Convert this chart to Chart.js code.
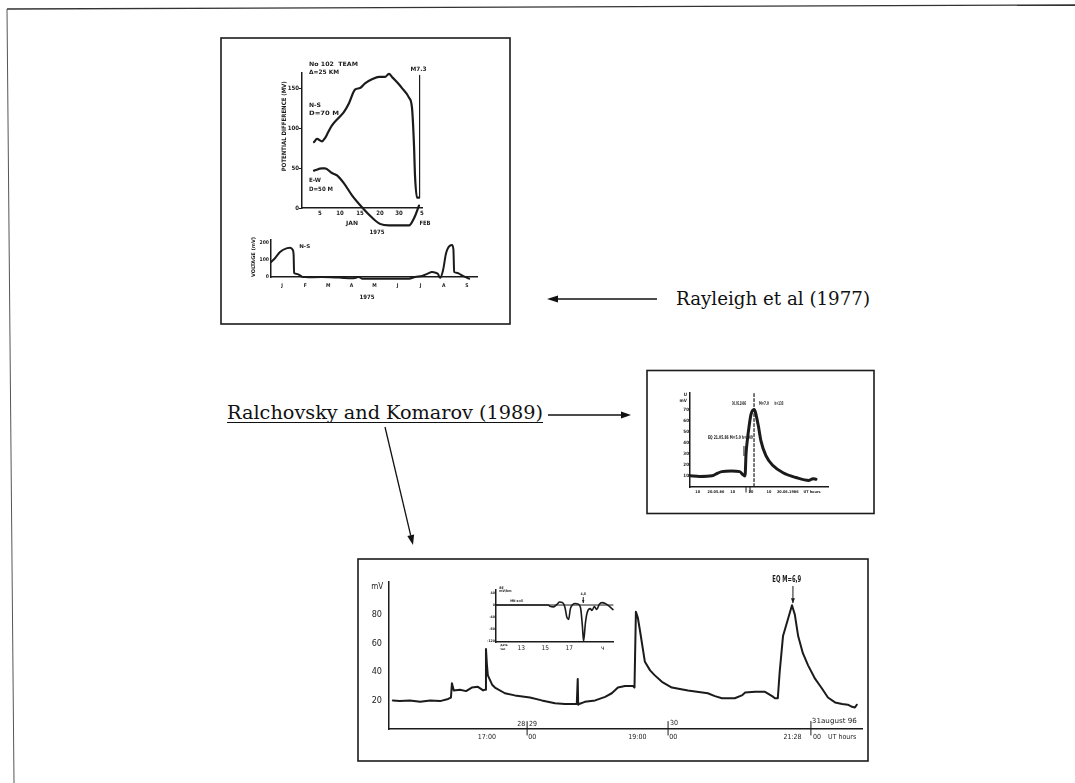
<!DOCTYPE html>
<html>
<head>
<meta charset="utf-8">
<title>Self-potential precursors</title>
<script src="https://cdn.jsdelivr.net/npm/chart.js@4.4.1/dist/chart.umd.min.js"></script>
<style>
  html, body { margin: 0; padding: 0; background: #fff; }
  #page { position: relative; width: 1075px; height: 783px; overflow: hidden; background: #fff; }
  #page canvas { position: absolute; }
  #page svg { position: absolute; left: 0; top: 0; }
</style>
</head>
<body>
<div id="page">
  <svg width="1075" height="783">
    <line x1="7" y1="9" x2="1075" y2="5" stroke="#333" stroke-width="1.3"/>
    <line x1="7" y1="9" x2="14" y2="783" stroke="#555" stroke-width="1"/>
    <rect x="221" y="38" width="289" height="286" fill="none" stroke="#1b1b1b" stroke-width="1.6"/>
    <rect x="647" y="370.5" width="227" height="143" fill="none" stroke="#1b1b1b" stroke-width="1.6"/>
    <rect x="358" y="559" width="510" height="202" fill="none" stroke="#1b1b1b" stroke-width="1.6"/>

    <text x="676" y="305" font-family="DejaVu Serif Condensed, DejaVu Serif, serif" font-size="18" fill="#111"
          textLength="194" lengthAdjust="spacingAndGlyphs">Rayleigh et al (1977)</text>
    <line x1="557" y1="299" x2="657" y2="299" stroke="#111" stroke-width="1.5"/>
    <polygon points="547,299 558,295.5 558,302.5" fill="#111"/>

    <text x="227" y="419" font-family="DejaVu Serif Condensed, DejaVu Serif, serif" font-size="18" fill="#111"
          textLength="316" lengthAdjust="spacingAndGlyphs">Ralchovsky and Komarov (1989)</text>
    <line x1="227" y1="422.5" x2="543" y2="422.5" stroke="#111" stroke-width="1"/>
    <line x1="548" y1="415" x2="622" y2="415" stroke="#111" stroke-width="1.5"/>
    <polygon points="631,415 621,411.5 621,418.5" fill="#111"/>
    <line x1="385" y1="427" x2="410.7" y2="535.3" stroke="#111" stroke-width="1.3"/>
    <polygon points="413,545 407.3,536.1 414.1,534.5" fill="#111"/>
  </svg>
  <canvas id="chartA"></canvas>
  <canvas id="chartB"></canvas>
  <canvas id="chartC"></canvas>
  <canvas id="chartD"></canvas>
  <canvas id="chartE"></canvas>
</div>
<script>
const ink = '#1b1b1b';
const cond = '"DejaVu Sans Condensed", "DejaVu Sans", sans-serif';

// --- Rayleigh et al: potential difference, January - February 1975 ---
const nsDay = [3.5, 4.25, 5.5, 6.25, 7, 8, 9.75, 11, 12.25, 13.75, 15, 16.25, 18, 19.75, 21.25, 22.25, 23, 24.5, 25.5, 27.25, 28, 28.5, 28.75, 29.25, 29.75];
const nsMv = [83, 87, 84, 88, 95, 104, 114, 121, 132, 149, 151, 157, 162, 165, 165, 169, 165, 157, 151, 139, 126, 79, 41, 13, 13];
const ewDay = [3.5, 5.5, 6.25, 8, 9.25, 11, 13, 15.5, 18, 20, 22.25, 27.25, 28.5, 29.75];
const ewMv = [47, 50, 50, 44, 41, 31, 16, 1, -12, -20, -22, -22, -13, 3];
const quakeDay = [29.9, 29.9];
const quakeMv = [13, 167];
const aYTicks = [0, 50, 100, 150];
const aYLabels = ['0', '50', '100', '150'];
const aXTicks = [5, 10, 15, 20, 24.75, 30.5];
const aXLabels = ['5', '10', '15', '20', '30', '5'];

// --- Rayleigh et al: N-S line over 1975 ---
const yearMonth = [-0.48, -0.3, -0.09, 0.22, 0.35, 0.46, 0.5, 0.52, 0.65, 0.87, 1.2, 1.73, 2.1, 2.47, 3.03, 3.2, 3.33, 3.46, 4.0, 4.63, 5.1, 5.5, 5.76, 6.06, 6.3, 6.49, 6.65, 6.75, 6.84, 6.97, 7.1, 7.27, 7.36, 7.42, 7.45, 7.55, 7.66, 7.79, 8.1];
const yearMv = [88, 112, 147, 170, 172, 160, 129, 23, 18, 2, -2, 0, -1, -3, -8, -4, 0, -10, -11, -10, -11, -10, 0, 6, 20, 29, 25, 18, -5, 40, 140, 185, 188, 160, 30, 25, 20, 10, -10];
const bYTicks = [0, 100, 200];
const bYLabels = ['0', '100', '200'];
const bXTicks = [0, 1, 2, 3, 4, 5, 6, 7, 8];
const bXLabels = ['J', 'F', 'M', 'A', 'M', 'J', 'J', 'A', 'S'];

// --- Ralchovsky and Komarov: May - June 1986 record ---
const mayT = [0, 7, 16, 20, 23, 30, 36, 38.5, 39.9, 40.6, 41.5, 42.8, 44.2, 46.4, 49.3, 51.4, 55, 60.1, 67.4, 76.8, 86.2, 89.1, 91.3];
const mayMv = [10.2, 9.6, 10.2, 12.5, 14, 14.6, 14, 11, 10, 30, 42, 55, 66, 70.5, 57, 42, 28.6, 19.5, 13, 8.6, 6, 7.6, 7];
const mayQuakeT = [46.4, 46.4];
const mayQuakeMv = [85, 0];
const cYTicks = [10, 20, 30, 40, 50, 60, 70];
const cYLabels = ['10', '20', '30', '40', '50', '60', '70'];
const cXTicks = [5.6, 18.8, 30.9, 44.2, 57.2, 70.8, 88.4];
const cXLabels = ['10', '20.05.86', '10', '20', '10', '20.06.1986', 'UT hours'];

// --- Ralchovsky and Komarov: 28 - 31 August 1986 record ---
const augT = [0.8, 2.3, 4.4, 6.6, 8.7, 10.8, 12.5, 13.1, 13.3, 13.7, 15.0, 16.3, 17.5, 18.8, 19.9, 20.3, 20.5, 20.7, 20.9, 21.8, 22.4, 24.5, 26.6, 29.8, 32.3, 35.1, 37.2, 39.7, 39.9, 40.0, 40.2, 41.4, 43.6, 45.7, 47.1, 48.4, 49.9, 51.6, 51.9, 52.2, 52.6, 53.1, 54.1, 55.2, 56.2, 57.7, 59.8, 63.2, 67.4, 68.9, 70.4, 73.1, 74.6, 75.3, 77.4, 79.5, 81.0, 81.6, 82.2, 82.6, 83.3, 84.4, 85.2, 85.8, 86.5, 87.5, 88.6, 90.1, 91.5, 92.8, 94.3, 95.8, 97.0, 97.9, 98.5, 98.9];
const augMv = [20, 19.5, 20, 19, 20, 19.5, 21, 22, 32, 27, 27.5, 26.5, 29, 29.5, 27, 27.5, 56, 45, 37.5, 31, 29, 25, 23.5, 22, 20, 18, 17.5, 17.5, 35, 17, 17.5, 19, 20, 22.5, 25, 29, 30, 30, 29, 82, 78, 68, 47, 41, 37.5, 33, 29, 27, 25, 23, 21.5, 21.5, 23.5, 25.5, 26, 26, 23, 21.5, 21.5, 40, 65, 77.5, 86.5, 80, 65, 53, 44.5, 35, 28.5, 22, 18.6, 17.5, 17, 15.5, 15, 17];
const dYTicks = [20, 40, 60, 80];
const dYLabels = ['20', '40', '60', '80'];
const dXTicks = [20.7, 30.3, 52.5, 60.1, 85.3, 90.5, 95.8];
const dXLabels = ['17:00', '00', '19:00', '00', '21:28', '00', 'UT hours'];
const dayBreakT = [29.2, 59.0, 89.2];

// --- inset: telluric field, MN line ---
const insetH = [10.9, 15.25, 15.4, 15.7, 16.0, 16.2, 16.45, 16.65, 16.8, 16.95, 17.1, 17.3, 17.5, 17.75, 17.95, 18.1, 18.2, 18.35, 18.5, 18.75, 18.9, 19.1, 19.3, 19.5, 19.75, 20.0, 20.3, 20.65];
const insetMv = [0, 0, -4, -6, 3, 10, 8, -8, -40, -48, -12, 2, 5, 3, -10, -70, -120, -60, -25, -12, -18, -5, -15, 2, 8, 5, -3, -15];
const zeroH = [10.9, 20.65];
const zeroMv = [0, 0];
const eYTicks = [-120, -80, -40, 0, 40];
const eYLabels = ['-120', '-80', '-40', '0', '40'];
const eXTicks = [13, 15, 17, 19.8];
const eXLabels = ['13', '15', '17', 'ч'];

function pts(xs, ys) {
  return xs.map((x, i) => ({ x, y: ys[i] }));
}

function f(size, weight) {
  return { family: cond, size, weight: weight || 'bold' };
}

// texts and pointer lines placed in data units, converted through the chart's scales
function notesPlugin(n) {
  return {
    id: 'notes',
    afterDatasetsDraw(chart) {
      const { ctx, scales: { x, y } } = chart;
      ctx.save();
      ctx.strokeStyle = ink;
      ctx.fillStyle = ink;
      (n.lines || []).forEach(l => {
        const p = l.pts.map(q => [x.getPixelForValue(q[0]), y.getPixelForValue(q[1])]);
        ctx.lineWidth = l.w || 1;
        ctx.beginPath();
        p.forEach((q, i) => i ? ctx.lineTo(q[0], q[1]) : ctx.moveTo(q[0], q[1]));
        ctx.stroke();
        if (l.head) {
          const [x0, y0] = p[p.length - 2];
          const [x1, y1] = p[p.length - 1];
          const a = Math.atan2(y1 - y0, x1 - x0), s = l.head;
          ctx.beginPath();
          ctx.moveTo(x1, y1);
          ctx.lineTo(x1 - s * Math.cos(a) + s * 0.4 * Math.sin(a), y1 - s * Math.sin(a) - s * 0.4 * Math.cos(a));
          ctx.lineTo(x1 - s * Math.cos(a) - s * 0.4 * Math.sin(a), y1 - s * Math.sin(a) + s * 0.4 * Math.cos(a));
          ctx.closePath();
          ctx.fill();
        }
      });
      (n.texts || []).forEach(t => {
        ctx.save();
        ctx.font = t.font;
        ctx.textAlign = t.align || 'left';
        ctx.textBaseline = 'middle';
        ctx.translate(x.getPixelForValue(t.x), y.getPixelForValue(t.y));
        if (t.rot) ctx.rotate(t.rot);
        if (t.w) ctx.scale(t.w / ctx.measureText(t.t).width, 1);
        ctx.fillText(t.t, 0, 0);
        ctx.restore();
      });
      ctx.restore();
    }
  };
}

function axis(a, fit) {
  return {
    type: 'linear',
    min: a.min,
    max: a.max,
    afterFit: fit,
    afterBuildTicks: s => { s.ticks = a.ticks.map(v => ({ value: v })); },
    ticks: {
      autoSkip: false, maxRotation: 0, color: ink, font: a.font, padding: a.pad,
      callback: (v, i) => a.labels[i]
    },
    grid: { display: true, drawOnChartArea: false, drawTicks: !!a.tick, tickLength: a.tick || 0, color: ink },
    border: { display: true, color: ink, width: a.bw || 1.5 }
  };
}

function build(id, box, area, sc, datasets, notes) {
  const cv = document.getElementById(id);
  cv.width = box.w;
  cv.height = box.h;
  cv.style.left = box.l + 'px';
  cv.style.top = box.t + 'px';
  const yw = area.l - box.l;
  const xh = box.t + box.h - area.b;
  return new Chart(cv, {
    type: 'line',
    data: { datasets },
    options: {
      responsive: false,
      animation: false,
      events: [],
      layout: { padding: { left: 0, bottom: 0, top: area.t - box.t, right: box.l + box.w - area.r } },
      plugins: { legend: { display: false }, tooltip: { enabled: false } },
      elements: { point: { radius: 0 }, line: { borderColor: ink, borderCapStyle: 'round', borderJoinStyle: 'round' } },
      scales: {
        x: axis(sc.x, s => { s.height = xh; }),
        y: axis(sc.y, s => { s.width = yw; })
      }
    },
    plugins: [notesPlugin(notes)]
  });
}

// chart A
build('chartA', { l: 250, t: 50, w: 200, h: 195 }, { l: 302, t: 73, r: 422, b: 208 }, {
  x: { min: 0.5, max: 30.5, ticks: aXTicks, labels: aXLabels, font: f(6), pad: 2 },
  y: { min: 0, max: 170, ticks: aYTicks, labels: aYLabels, font: f(6), pad: 0, tick: 3 }
}, [
  { data: pts(nsDay, nsMv), borderWidth: 2.2, cubicInterpolationMode: 'monotone', clip: false },
  { data: pts(ewDay, ewMv), borderWidth: 2.2, cubicInterpolationMode: 'monotone', clip: false },
  { data: pts(quakeDay, quakeMv), borderWidth: 1.2, clip: false }
], {
  texts: [
    { x: 2.25, y: 181, t: 'No 102  TEAM', font: 'bold 6px ' + cond, w: 49 },
    { x: 2.25, y: 171, t: 'Δ=25 KM', font: 'bold 6px ' + cond, w: 30 },
    { x: 29.6, y: 174, t: 'M7.3', font: 'bold 6px ' + cond, align: 'center', w: 16 },
    { x: 2.25, y: 129.6, t: 'N-S', font: 'bold 6px ' + cond, w: 12 },
    { x: 2.25, y: 119.5, t: 'D=70 M', font: 'bold 6px ' + cond, w: 30 },
    { x: 2.25, y: 34.8, t: 'E-W', font: 'bold 6px ' + cond, w: 12 },
    { x: 2.25, y: 23.4, t: 'D=50 M', font: 'bold 6px ' + cond, w: 24 },
    { x: 13, y: -19.6, t: 'JAN', font: 'bold 6px ' + cond, align: 'center', w: 12 },
    { x: 31.25, y: -19.6, t: 'FEB', font: 'bold 6px ' + cond, align: 'center', w: 11 },
    { x: 19.25, y: -31, t: '1975', font: 'bold 6px ' + cond, align: 'center', w: 15 },
    { x: -4, y: 103, t: 'POTENTIAL DIFFERENCE (MV)', font: 'bold 6px ' + cond, align: 'center', rot: -Math.PI / 2, w: 90 }
  ]
});

// chart B
build('chartB', { l: 240, t: 225, w: 250, h: 80 }, { l: 271, t: 240, r: 477, b: 277 }, {
  x: { min: -0.48, max: 8.44, ticks: bXTicks, labels: bXLabels, font: f(5), pad: 6 },
  y: { min: 0, max: 218, ticks: bYTicks, labels: bYLabels, font: f(5), pad: 2 }
}, [
  { data: pts(yearMonth, yearMv), borderWidth: 2, cubicInterpolationMode: 'monotone', clip: false }
], {
  texts: [
    { x: 0.74, y: 177, t: 'N-S', font: 'bold 5px ' + cond, w: 11 },
    { x: 3.68, y: -118, t: '1975', font: 'bold 6px ' + cond, align: 'center', w: 15 },
    { x: -1.21, y: 118, t: 'VOLTAGE (mV)', font: 'bold 5px ' + cond, align: 'center', rot: -Math.PI / 2, w: 40 }
  ]
});

// chart C
build('chartC', { l: 655, t: 375, w: 190, h: 133 }, { l: 690, t: 393, r: 828, b: 487 }, {
  x: { min: 0, max: 100, ticks: cXTicks, labels: cXLabels, font: f(3.8), pad: 3 },
  y: { min: 0, max: 85.45, ticks: cYTicks, labels: cYLabels, font: f(4.5), pad: 1 }
}, [
  { data: pts(mayT, mayMv), borderWidth: 3, cubicInterpolationMode: 'monotone', clip: false },
  { data: pts(mayQuakeT, mayQuakeMv), borderWidth: 1.2, borderDash: [3, 2], clip: false }
], {
  lines: [
    { pts: [[40.6, 0], [40.6, -5]], w: 1 },
    { pts: [[43.5, 0], [43.5, -5]], w: 1 },
    { pts: [[39.1, 37.3], [39.1, 28.2]], w: 1 }
  ],
  texts: [
    { x: -2.2, y: 84, t: 'U', font: 'bold 4.5px ' + cond, align: 'right' },
    { x: -2.2, y: 78, t: 'mV', font: 'bold 4.5px ' + cond, align: 'right' },
    { x: 35.5, y: 75.5, t: '30.05.1986', font: 'bold 5px ' + cond, align: 'center', w: 14 },
    { x: 53.6, y: 75.5, t: 'M=7.0', font: 'bold 5px ' + cond, align: 'center', w: 10 },
    { x: 64.5, y: 75.5, t: 'h=133', font: 'bold 5px ' + cond, align: 'center', w: 9 },
    { x: 29.3, y: 44.5, t: 'EQ 21.05.86 M=5.0 h=140', font: 'bold 5px ' + cond, align: 'center', w: 45 }
  ]
});

// chart D
build('chartD', { l: 362, t: 562, w: 506, h: 192 }, { l: 389, t: 582, r: 862, b: 729 }, {
  x: { min: 0, max: 100, ticks: dXTicks, labels: dXLabels, font: f(7, 'normal'), pad: 4 },
  y: { min: 0, max: 102.8, ticks: dYTicks, labels: dYLabels, font: f(9, 'normal'), pad: 7 }
}, [
  { data: pts(augT, augMv), borderWidth: 2, clip: false }
], {
  lines: dayBreakT.map(t => ({ pts: [[t, 5.5], [t, -4.5]], w: 1 })).concat([
    { pts: [[85.4, 100], [85.4, 88]], w: 1, head: 5 }
  ]),
  texts: [
    { x: -2.5, y: 99.3, t: 'mV', font: '8px ' + cond, align: 'center' },
    { x: 84.1, y: 104.2, t: 'EQ M=6,9', font: 'bold 8px ' + cond, align: 'center', w: 29 },
    { x: 28.8, y: 3.2, t: '28', font: '7px ' + cond, align: 'right' },
    { x: 29.6, y: 3.2, t: '29', font: '7px ' + cond },
    { x: 59.4, y: 3.9, t: '30', font: '7px ' + cond },
    { x: 89.4, y: 5.3, t: '31august 96', font: '7px ' + cond, w: 45 }
  ]
});

// chart E (inset)
build('chartE', { l: 478, t: 575, w: 145, h: 80 }, { l: 496, t: 590, r: 613, b: 642 }, {
  x: { min: 10.9, max: 20.65, ticks: eXTicks, labels: eXLabels, font: f(6.5, 'normal'), pad: 2 },
  y: { min: -123, max: 50, ticks: eYTicks, labels: eYLabels, font: f(3.5), pad: 1 }
}, [
  { data: pts(zeroH, zeroMv), borderWidth: 1, clip: false },
  { data: pts(insetH, insetMv), borderWidth: 1.6, cubicInterpolationMode: 'monotone', clip: false }
], {
  lines: [
    { pts: [[18.17, 26.6], [18.17, 6.6]], w: 1, head: 3 }
  ],
  texts: [
    { x: 11.17, y: 56.5, t: 'δE', font: 'bold 3.5px ' + cond },
    { x: 11.17, y: 45, t: 'mV/km', font: 'bold 3.5px ' + cond },
    { x: 12.08, y: 13.3, t: 'MN α=5', font: 'bold 3.5px ' + cond, w: 13 },
    { x: 18.17, y: 36.6, t: '4,8', font: 'bold 3.5px ' + cond, align: 'center' },
    { x: 11.25, y: -133, t: 'дата', font: 'bold 3px ' + cond },
    { x: 11.25, y: -146, t: 'час', font: 'bold 3px ' + cond }
  ]
});
</script>
</body>
</html>
